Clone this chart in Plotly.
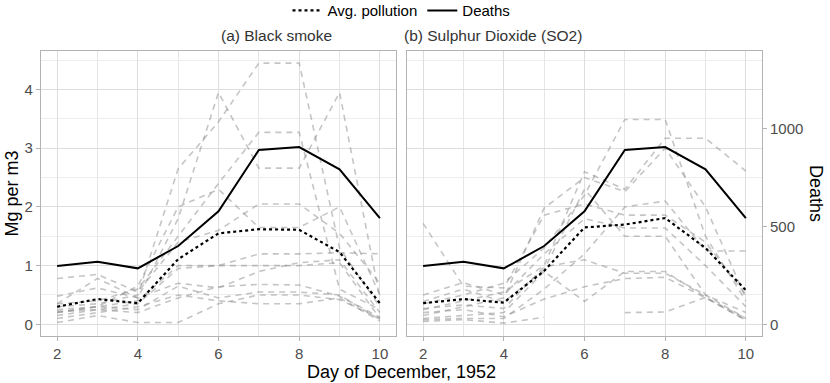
import plotly.graph_objects as go

days = [2, 3, 4, 5, 6, 7, 8, 9, 10]

# Deaths per day (right axis)
deaths = [298, 320, 286, 400, 578, 891, 906, 792, 543]
deaths_per_mg = 300  # secondary axis factor: 1 Mg per m3 <-> 300 deaths

# Average pollution, Mg per m3
avg_smoke = [0.30, 0.43, 0.36, 1.11, 1.55, 1.62, 1.61, 1.23, 0.36]
avg_so2 = [0.36, 0.43, 0.37, 0.91, 1.65, 1.70, 1.81, 1.30, 0.58]

# Individual stations, black smoke
smoke_stations = [
    [0.30, 0.35, 0.50, 2.65, 3.45, 4.45, 4.45, 1.30, 0.30],
    [0.48, 0.62, 0.45, 1.80, 3.95, 2.66, 2.66, 3.95, 0.45],
    [0.35, 0.40, 0.60, 1.50, 2.40, 3.27, 3.27, 0.60, 0.25],
    [0.78, 0.85, 0.55, 1.40, 1.60, 2.05, 2.05, 1.55, 0.70],
    [0.20, 0.30, 0.65, 2.00, 2.30, 1.65, 1.65, 2.00, 0.50],
    [0.25, 0.30, 0.40, 1.00, 1.00, 1.20, 1.20, 1.22, 1.20],
    [0.15, 0.25, 0.35, 0.95, 1.00, 1.00, 1.00, 1.05, 0.10],
    [0.35, 0.78, 0.45, 0.70, 0.62, 0.90, 1.05, 1.10, 0.20],
    [0.20, 0.30, 0.25, 0.65, 0.45, 0.55, 0.55, 0.50, 0.08],
    [0.10, 0.20, 0.30, 0.50, 0.40, 0.35, 0.35, 0.45, 0.06],
    [0.03, 0.15, 0.03, 0.03, 0.35, 0.50, 0.50, 0.42, 0.10],
    [0.22, 0.25, 0.20, 0.45, 0.64, 0.68, 0.67, 0.48, 0.12],
]

# Individual stations, sulphur dioxide
so2_stations = [
    [0.35, 0.50, 0.70, 1.30, 2.20, 3.49, 3.49, 1.50, 0.40],
    [0.25, 0.40, 0.55, 1.00, 2.60, 2.30, 3.17, 3.17, 2.61],
    [0.15, 0.30, 0.45, 1.98, 2.50, 2.26, 3.00, 2.00, 0.45],
    [1.72, 0.65, 0.62, 1.86, 2.05, 1.86, 1.86, 1.40, 0.50],
    [0.50, 0.71, 0.50, 1.20, 1.80, 1.64, 1.64, 1.00, 0.30],
    [0.39, 0.60, 0.38, 0.93, 2.30, 1.50, 1.50, 0.50, 0.20],
    [0.27, 0.33, 0.27, 0.98, 1.10, 0.87, 0.87, 0.50, 0.10],
    [0.20, 0.25, 0.13, 0.43, 0.64, 0.78, 0.80, 0.45, 0.07],
    [0.10, 0.15, 0.20, 0.90, 0.39, 0.90, 0.90, 0.46, 0.10],
    [0.05, 0.08, 0.02, 0.12, None, None, None, None, None],
    [None, None, None, None, None, 0.20, 0.21, 0.46, 0.07],
    [0.08, 0.10, 0.10, 0.60, 1.20, 2.00, 2.10, 1.25, 1.25],
]

panel_titles = ["(a) Black smoke", "(b) Sulphur Dioxide (SO2)"]
x_ticks = [2, 4, 6, 8, 10]
y_ticks = [0, 1, 2, 3, 4]
death_ticks = [0, 500, 1000]

FONT = "Liberation Sans, Arial, sans-serif"
GRAY_LINE = "rgba(140,140,140,0.5)"
mg_range = [-0.199, 4.656]
death_range = [v * deaths_per_mg for v in mg_range]

fig = go.Figure()

panels = [("x", "y", "y3", smoke_stations, avg_smoke),
          ("x2", "y2", "y4", so2_stations, avg_so2)]

for i, (xa, ya, yd, stations, avg) in enumerate(panels):
    for s in stations:
        fig.add_trace(go.Scatter(x=days, y=s, xaxis=xa, yaxis=ya, mode="lines",
                                 line=dict(color=GRAY_LINE, width=1.6, dash="6px,5px"),
                                 showlegend=False, hoverinfo="skip"))
    fig.add_trace(go.Scatter(x=days, y=avg, xaxis=xa, yaxis=ya, mode="lines",
                             name="Avg. pollution", legendgroup="avg", showlegend=(i == 0),
                             line=dict(color="black", width=2.2, dash="3px,3px")))
    fig.add_trace(go.Scatter(x=days, y=deaths, xaxis=xa, yaxis=yd, mode="lines",
                             name="Deaths", legendgroup="deaths", showlegend=(i == 0),
                             line=dict(color="black", width=2)))

xcommon = dict(range=[1.6, 10.4], tickvals=x_ticks, showgrid=True, gridcolor="#dedede",
               gridwidth=1, minor=dict(tickvals=[3, 5, 7, 9], showgrid=True,
                                       gridcolor="#e6e6e6", gridwidth=0.6),
               ticks="outside", ticklen=4, tickcolor="#b3b3b3", showline=True,
               mirror=True, linecolor="#b3b3b3", linewidth=1.2, zeroline=False,
               automargin=False, tickfont=dict(size=15, color="#4d4d4d"))
ycommon = dict(range=mg_range, tickvals=y_ticks, showgrid=True, gridcolor="#dedede",
               gridwidth=1, minor=dict(tickvals=[0.5, 1.5, 2.5, 3.5, 4.5], showgrid=True,
                                       gridcolor="#ededed", gridwidth=0.6),
               showline=True, mirror=True, linecolor="#b3b3b3", linewidth=1.2,
               zeroline=False, automargin=False, tickfont=dict(size=15, color="#4d4d4d"))

fig.update_layout(
    width=830, height=383,
    margin=dict(l=41, r=68, t=51, b=47, autoexpand=False),
    paper_bgcolor="white", plot_bgcolor="white",
    font=dict(family=FONT, color="black"),
    xaxis=dict(domain=[0, 0.4924], anchor="y", **xcommon),
    xaxis2=dict(domain=[0.5076, 1], anchor="y2", **xcommon),
    yaxis=dict(domain=[0, 1], anchor="x", ticks="outside", ticklen=4,
               tickcolor="#b3b3b3", **ycommon),
    yaxis2=dict(domain=[0, 1], anchor="x2", showticklabels=False, ticks="", **ycommon),
    yaxis3=dict(overlaying="y", anchor="x", range=death_range, visible=False),
    yaxis4=dict(overlaying="y2", anchor="x2", side="right", range=death_range,
                tickvals=death_ticks, showgrid=False, zeroline=False, ticks="outside",
                ticklen=4, tickcolor="#b3b3b3", showline=False, automargin=False,
                tickfont=dict(size=15, color="#4d4d4d")),
    legend=dict(orientation="h", x=0.5, xanchor="center", xref="paper",
                y=0.972, yanchor="middle", yref="container",
                font=dict(size=15, color="black"), bgcolor="rgba(0,0,0,0)",
                traceorder="normal"),
    showlegend=True,
)

annotations = [
    dict(text=panel_titles[0], x=0.2462, y=1, xref="paper", yref="paper",
         yanchor="middle", yshift=16, showarrow=False,
         font=dict(size=15.5, color="#333333")),
    dict(text=panel_titles[1], x=0.7538, y=1, xref="paper", yref="paper",
         yanchor="middle", yshift=16, showarrow=False,
         font=dict(size=15.5, color="#333333")),
    dict(text="Day of December, 1952", x=0.5, y=0, xref="paper", yref="paper",
         yanchor="middle", yshift=-35.5, showarrow=False, font=dict(size=18)),
    dict(text="Mg per m3", x=0, y=0.5, xref="paper", yref="paper",
         xanchor="center", xshift=-30, textangle=-90, showarrow=False,
         font=dict(size=18)),
    dict(text="Deaths", x=1, y=0.5, xref="paper", yref="paper",
         xanchor="center", xshift=54.5, textangle=90, showarrow=False,
         font=dict(size=18)),
]
fig.update_layout(annotations=annotations)

# drop the browser's default body margin so the 830x383 figure fills the window
fig.write_html("out.html", config={"displayModeBar": False},
               post_script="document.body.style.margin='0';")
